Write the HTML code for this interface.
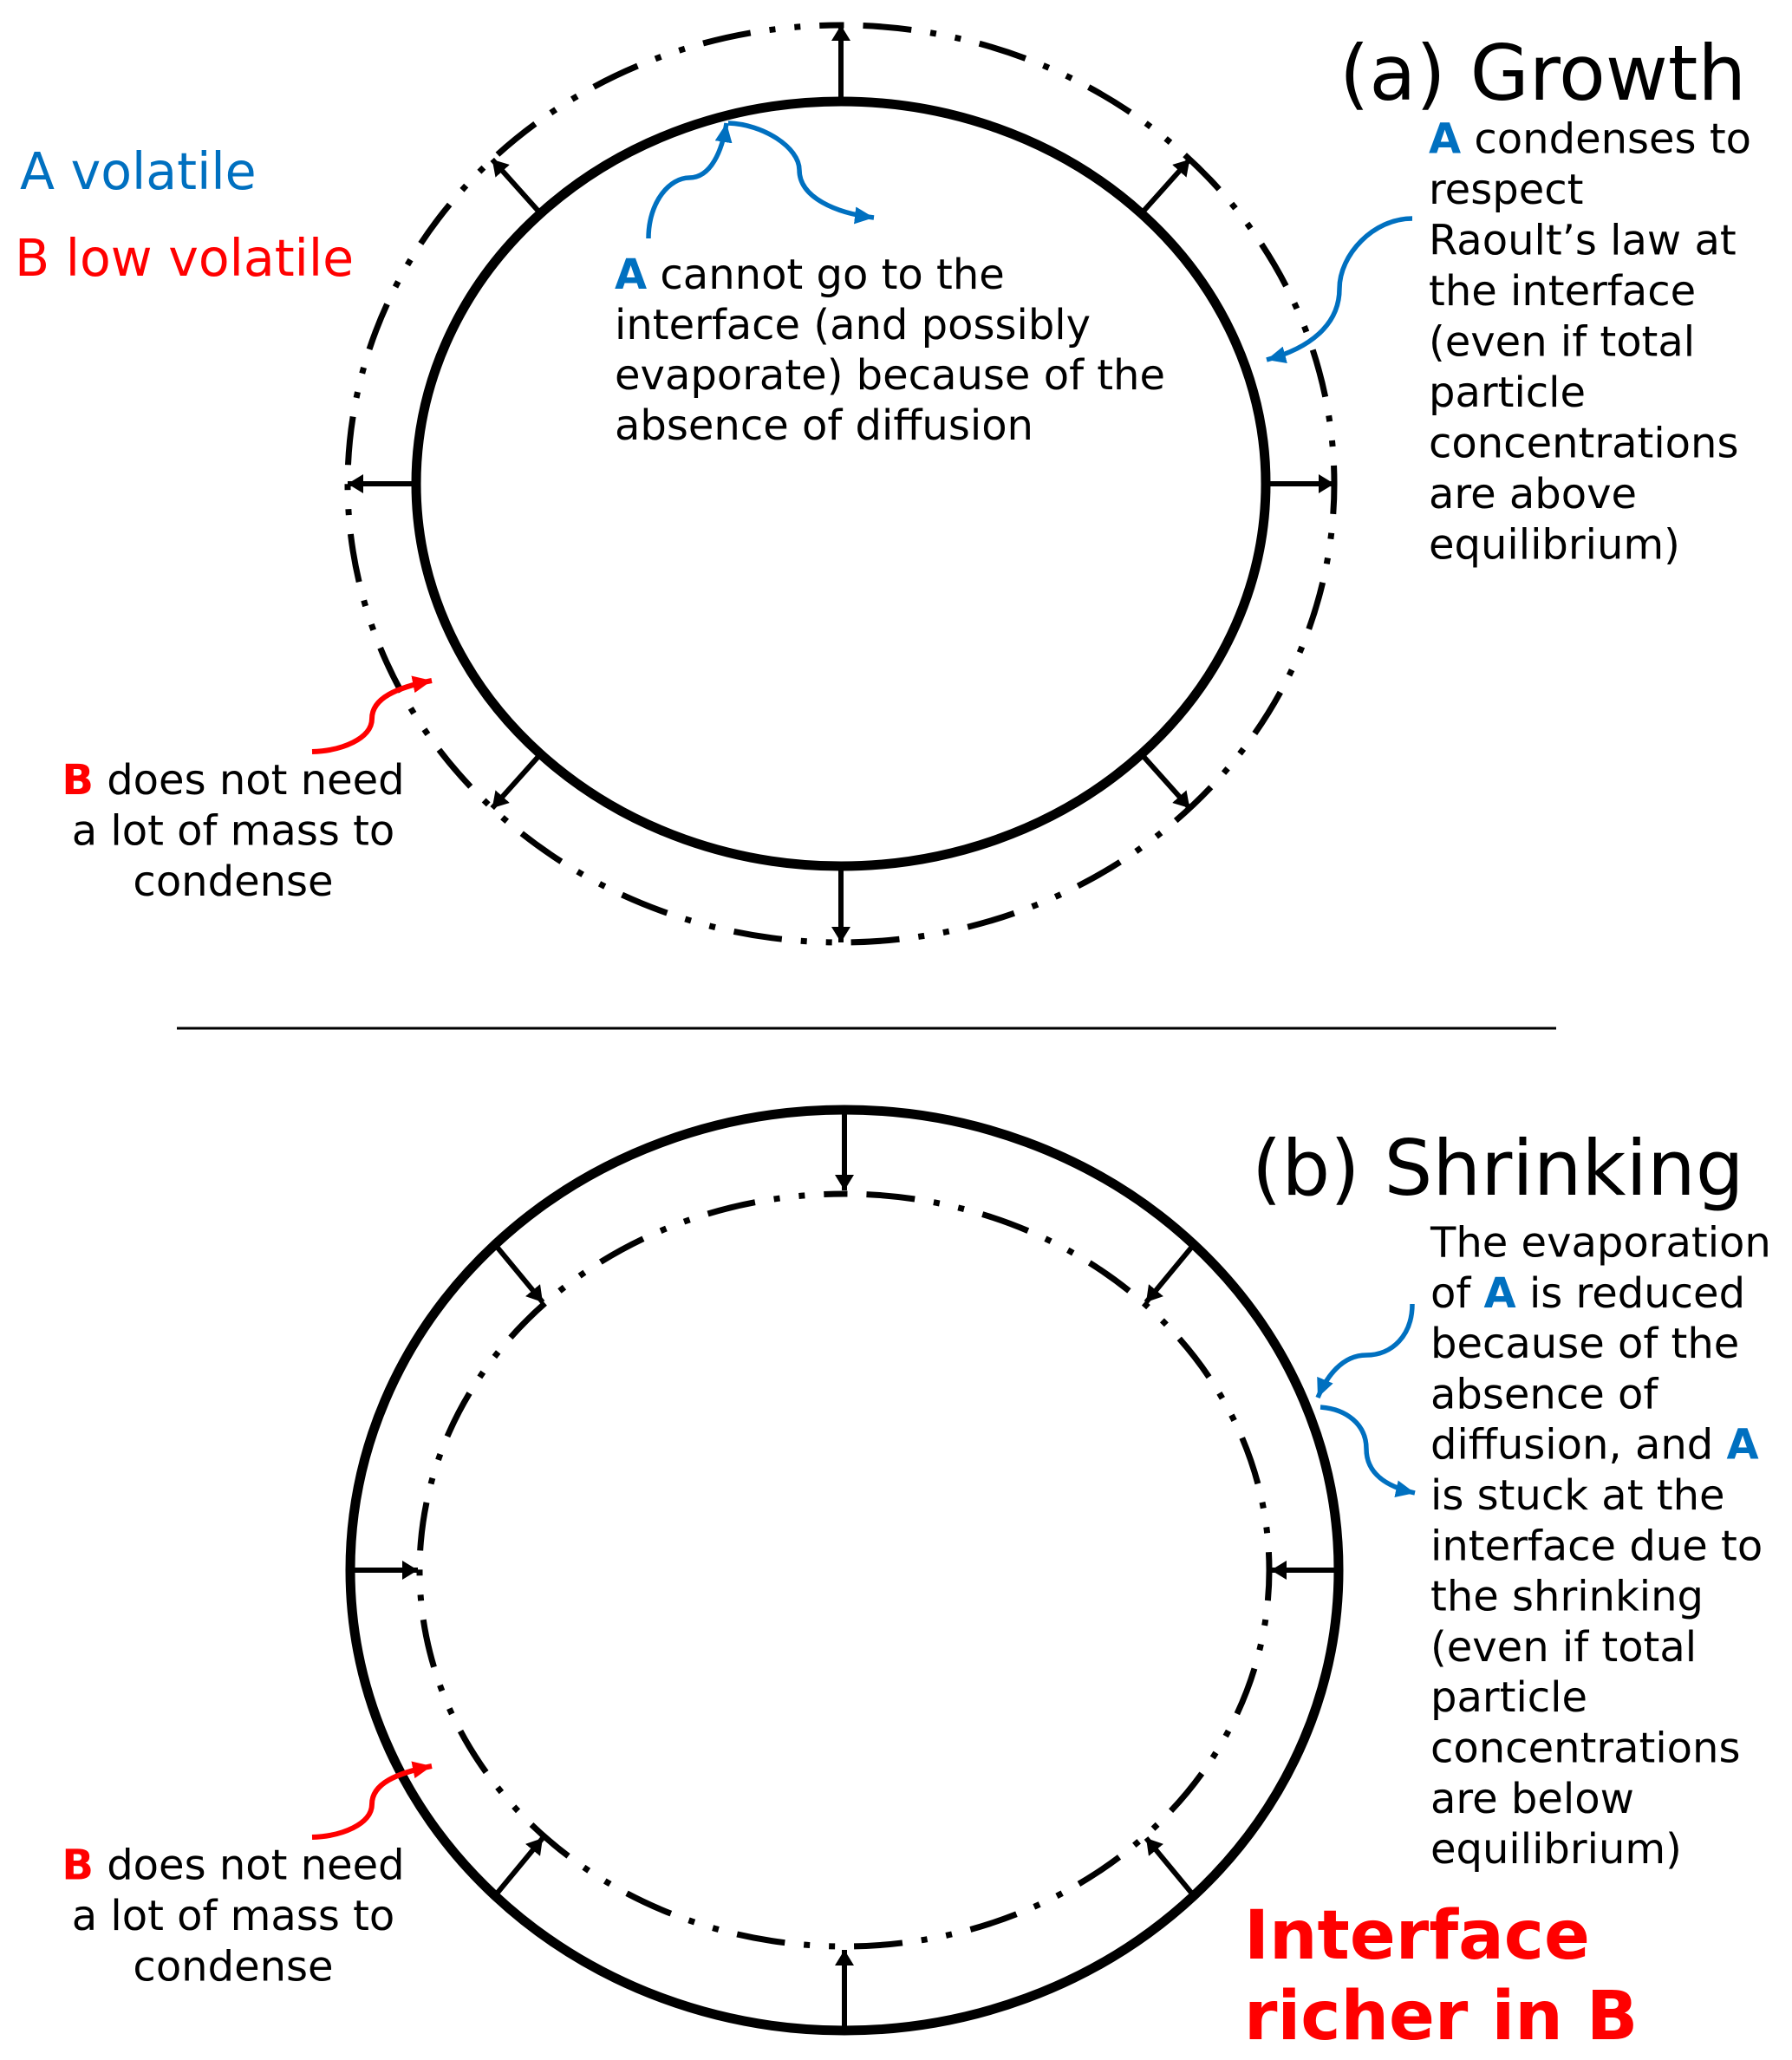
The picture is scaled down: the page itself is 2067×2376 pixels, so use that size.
<!DOCTYPE html>
<html>
<head>
<meta charset="utf-8">
<style>
  html, body { margin: 0; padding: 0; background: #ffffff; }
  svg { display: block; }
  text { font-family: "DejaVu Sans", "Liberation Sans", sans-serif; }
</style>
</head>
<body>
<svg width="2067" height="2376" viewBox="0 0 2067 2376" xmlns="http://www.w3.org/2000/svg">
  <defs>
    <marker id="ahk" viewBox="0 0 18 22" refX="18" refY="11" markerWidth="18" markerHeight="22" orient="auto" markerUnits="userSpaceOnUse">
      <path d="M0,0 L18,11 L0,22 Z" fill="#000"/>
    </marker>
    <marker id="ahb" viewBox="0 0 22 20" refX="22" refY="10" markerWidth="22" markerHeight="20" orient="auto" markerUnits="userSpaceOnUse">
      <path d="M0,0 L22,10 L0,20 Z" fill="#0070C0"/>
    </marker>
    <marker id="ahr" viewBox="0 0 22 20" refX="22" refY="10" markerWidth="22" markerHeight="20" orient="auto" markerUnits="userSpaceOnUse">
      <path d="M0,0 L22,10 L0,20 Z" fill="#FF0000"/>
    </marker>
  </defs>

  <rect x="0" y="0" width="2067" height="2376" fill="#ffffff"/>

  <!-- ===== (a) Growth ===== -->
  <ellipse cx="970" cy="558" rx="490" ry="441" fill="none" stroke="#000" stroke-width="11"/>
  <path d="M970,29 A569,529 0 0 1 970,1087 A569,529 0 0 1 970,29" fill="none" stroke="#000" stroke-width="7" stroke-dasharray="56 22 7 22 7 22" stroke-dashoffset="110.5"/>

  <g stroke="#000" stroke-width="6" marker-end="url(#ahk)">
    <line x1="1460" y1="558" x2="1539" y2="558"/>
    <line x1="1316.5" y1="246.2" x2="1372.3" y2="183.9"/>
    <line x1="970" y1="117" x2="970" y2="29"/>
    <line x1="623.5" y1="246.2" x2="567.7" y2="183.9"/>
    <line x1="480" y1="558" x2="401" y2="558"/>
    <line x1="623.5" y1="869.8" x2="567.7" y2="932.1"/>
    <line x1="970" y1="999" x2="970" y2="1087"/>
    <line x1="1316.5" y1="869.8" x2="1372.3" y2="932.1"/>
  </g>

  <!-- blue arrows (a) -->
  <g fill="none" stroke="#0070C0" stroke-width="5.5">
    <path d="M748,275 C748,232 773,205 795,205 C820,205 833,174 838,142" marker-end="url(#ahb)"/>
    <path d="M840,142 C880,143 922,170 922,196 C922,228 965,246 1008,251" marker-end="url(#ahb)"/>
    <path d="M1629,252 C1584,252 1545,294 1545,333 C1545,375 1510,402 1461,415" marker-end="url(#ahb)"/>
  </g>
  <!-- red arrow (a) -->
  <path d="M360,867 C394,866 429,852 429,829 C429,805 458,793 498,785" fill="none" stroke="#FF0000" stroke-width="6" marker-end="url(#ahr)"/>

  <text x="23" y="218" font-size="58.5" fill="#0070C0">A volatile</text>
  <text x="17" y="318" font-size="58.5" fill="#FF0000">B low volatile</text>

  <text x="1545" y="115" font-size="88" fill="#000">(a) Growth</text>

  <g font-size="48" fill="#000">
    <text x="709" y="333"><tspan font-weight="bold" fill="#0070C0">A</tspan> cannot go to the</text>
    <text x="709" y="391">interface (and possibly</text>
    <text x="709" y="449">evaporate) because of the</text>
    <text x="709" y="507">absence of diffusion</text>
  </g>

  <g font-size="48" fill="#000">
    <text x="1648" y="176.7"><tspan font-weight="bold" fill="#0070C0">A</tspan> condenses to</text>
    <text x="1648" y="235.2">respect</text>
    <text x="1648" y="293.7">Raoult’s law at</text>
    <text x="1648" y="352.2">the interface</text>
    <text x="1648" y="410.7">(even if total</text>
    <text x="1648" y="469.2">particle</text>
    <text x="1648" y="527.7">concentrations</text>
    <text x="1648" y="586.2">are above</text>
    <text x="1648" y="644.7">equilibrium)</text>
  </g>

  <g font-size="48" fill="#000" text-anchor="middle">
    <text x="269" y="916"><tspan font-weight="bold" fill="#FF0000">B</tspan> does not need</text>
    <text x="269" y="974.5">a lot of mass to</text>
    <text x="269" y="1033">condense</text>
  </g>

  <!-- separator -->
  <line x1="204" y1="1186" x2="1795" y2="1186" stroke="#000" stroke-width="3"/>

  <!-- ===== (b) Shrinking ===== -->
  <ellipse cx="974" cy="1811" rx="570" ry="531" fill="none" stroke="#000" stroke-width="11"/>
  <path d="M974,1377 A490,434 0 0 1 974,2245 A490,434 0 0 1 974,1377" fill="none" stroke="#000" stroke-width="7" stroke-dasharray="56 22 7 22 7 22" stroke-dashoffset="110.5"/>

  <g stroke="#000" stroke-width="6" marker-end="url(#ahk)">
    <line x1="1544" y1="1811" x2="1466" y2="1811"/>
    <line x1="1377" y1="1435.5" x2="1322" y2="1502"/>
    <line x1="974" y1="1280" x2="974" y2="1373"/>
    <line x1="571" y1="1435.5" x2="626" y2="1502"/>
    <line x1="404" y1="1811" x2="482" y2="1811"/>
    <line x1="571" y1="2186.5" x2="626" y2="2120"/>
    <line x1="974" y1="2342" x2="974" y2="2249"/>
    <line x1="1377" y1="2186.5" x2="1322" y2="2120"/>
  </g>

  <!-- blue arrows (b) -->
  <g fill="none" stroke="#0070C0" stroke-width="5.5">
    <path d="M1629,1504 C1629,1540 1606,1563 1576,1563 C1548,1563 1530,1588 1520,1612" marker-end="url(#ahb)"/>
    <path d="M1523,1623 C1553,1625 1576,1643 1576,1671 C1576,1700 1600,1715 1632,1722" marker-end="url(#ahb)"/>
  </g>
  <!-- red arrow (b) -->
  <path d="M360,2119 C394,2118 429,2104 429,2081 C429,2057 458,2045 498,2037" fill="none" stroke="#FF0000" stroke-width="6" marker-end="url(#ahr)"/>

  <text x="1444" y="1378" font-size="88" fill="#000">(b) Shrinking</text>

  <g font-size="48" fill="#000">
    <text x="1650" y="1449.5">The evaporation</text>
    <text x="1650" y="1507.8">of <tspan font-weight="bold" fill="#0070C0">A</tspan> is reduced</text>
    <text x="1650" y="1566.1">because of the</text>
    <text x="1650" y="1624.4">absence of</text>
    <text x="1650" y="1682.7">diffusion, and <tspan font-weight="bold" fill="#0070C0">A</tspan></text>
    <text x="1650" y="1741">is stuck at the</text>
    <text x="1650" y="1799.3">interface due to</text>
    <text x="1650" y="1857.6">the shrinking</text>
    <text x="1650" y="1915.9">(even if total</text>
    <text x="1650" y="1974.2">particle</text>
    <text x="1650" y="2032.5">concentrations</text>
    <text x="1650" y="2090.8">are below</text>
    <text x="1650" y="2149.1">equilibrium)</text>
  </g>

  <g font-size="48" fill="#000" text-anchor="middle">
    <text x="269" y="2167.5"><tspan font-weight="bold" fill="#FF0000">B</tspan> does not need</text>
    <text x="269" y="2226">a lot of mass to</text>
    <text x="269" y="2284.5">condense</text>
  </g>

  <g font-size="78" font-weight="bold" fill="#FF0000">
    <text x="1435" y="2259">Interface</text>
    <text x="1435" y="2352">richer in B</text>
  </g>
</svg>
</body>
</html>
